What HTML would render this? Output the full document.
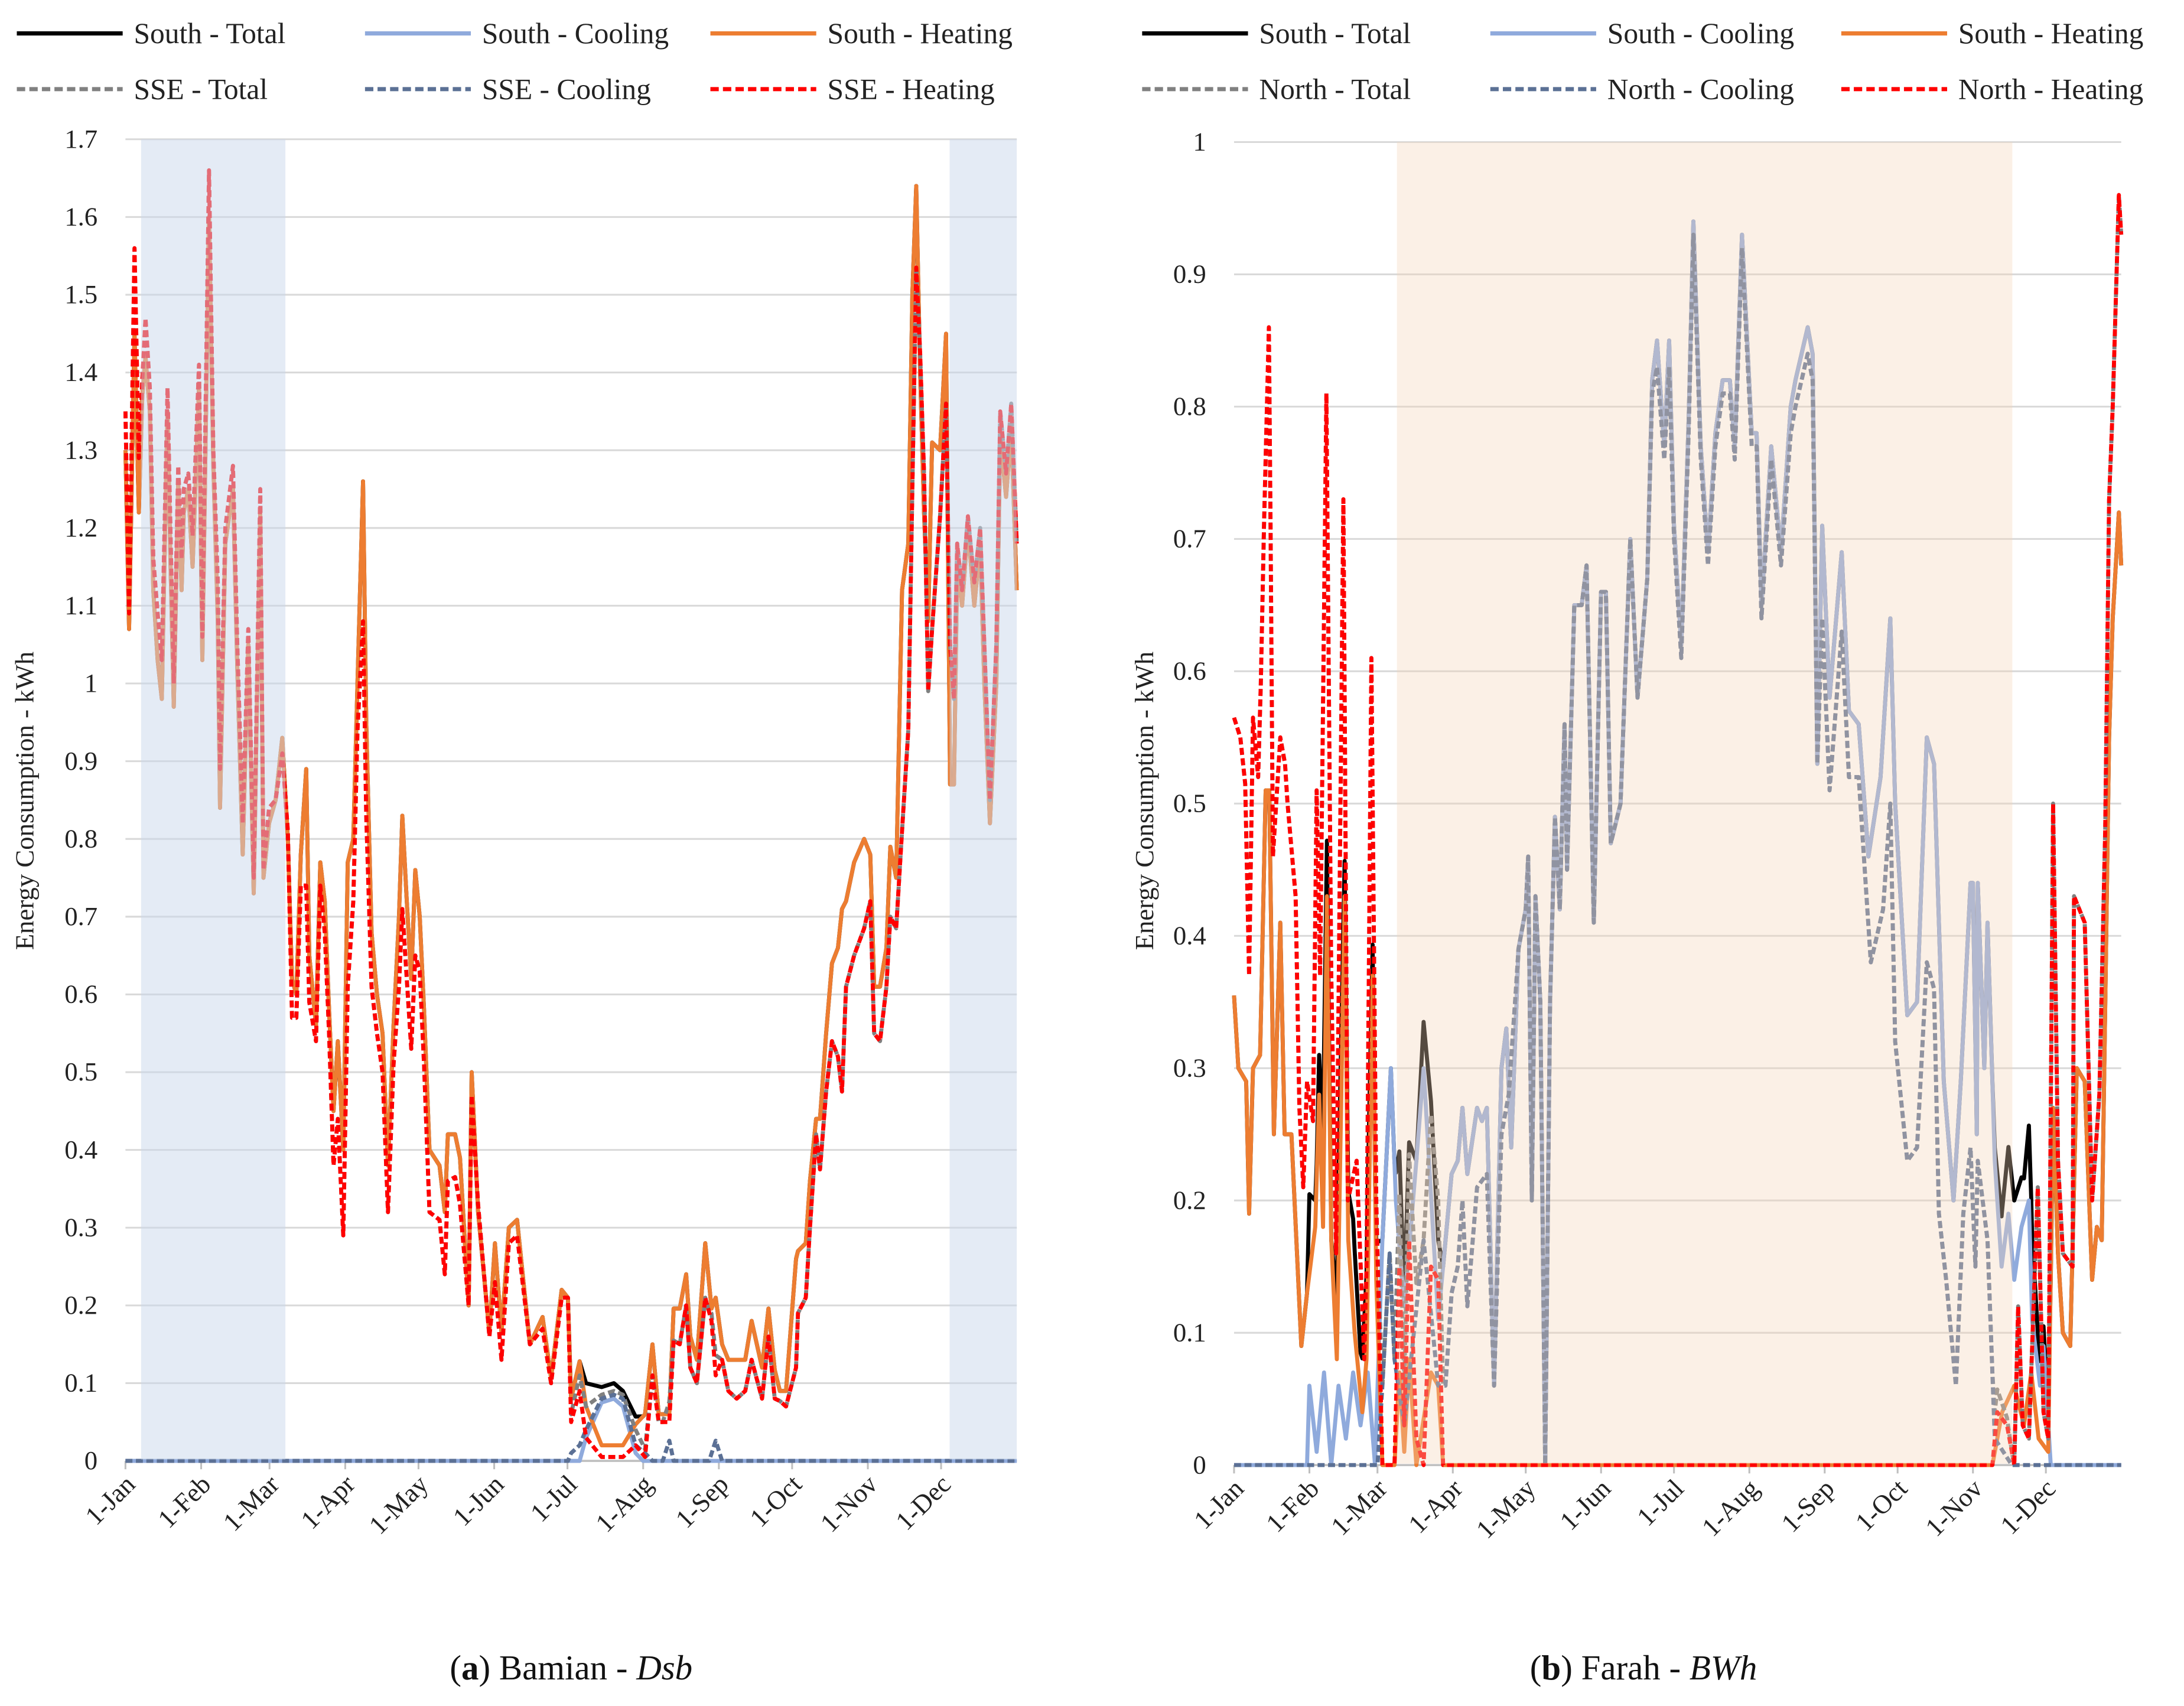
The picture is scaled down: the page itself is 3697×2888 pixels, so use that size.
<!DOCTYPE html>
<html><head><meta charset="utf-8"><style>
html,body{margin:0;padding:0;background:#fff;}
svg{display:block;font-family:"Liberation Serif",serif;}
</style></head><body>
<svg id="chart" width="3697" height="2888" viewBox="0 0 1568 1225" xmlns="http://www.w3.org/2000/svg"></svg>
<script>
// ---- Shared ----
const months = ["1-Jan","1-Feb","1-Mar","1-Apr","1-May","1-Jun","1-Jul","1-Aug","1-Sep","1-Oct","1-Nov","1-Dec"];
const monthDays = [0,31,59,90,120,151,181,212,243,273,304,334];

// ---- Chart (a) Bamian ----
const aTicks = [0,0.1,0.2,0.3,0.4,0.5,0.6,0.7,0.8,0.9,1,1.1,1.2,1.3,1.4,1.5,1.6,1.7];
const aDays = [0,1.5,3.7,5.5,6.9,8.2,10,11.4,13.2,14.9,17.2,18.5,19.8,21.6,23,23.9,25.7,27.5,30.1,31.5,34.2,36,37.8,38.7,40.9,44,45.8,48,50.3,52.5,55.2,56.5,58.8,61.5,64.2,66.5,68.2,70,71.8,74,75.3,78,79.8,81.6,83.4,85.2,87,89.2,91,93.3,95,97.3,98.6,100.8,103,105.3,107.5,109.8,112,113.4,115.2,117,118.7,120.5,122.3,124.5,128.6,130.8,132,
 135,137,140.5,141.8,144.4,149,151.3,154,157,160.4,165.6,170.8,174.3,178.6,181.2,182.5,186,188.6,195,200,203.7,208.9,212.8,215.8,218.4,222.7,224.5,227,229.6,231.3,234,237.4,240,241.7,244.3,246.9,250.3,253.8,256.4,260.7,263.3,265.9,
 268,270.5,274.6,275.4,278.6,280.3,282.8,284.4,286.9,289.3,291.8,293.4,295.1,298.4,302.5,305,306.6,309,311.6,313.2,315.6,318,320.6,322.2,323.8,325.4,327,328.7,330.3,333.6,336,337.7,339.3,340.6,342.6,345,347.6,350,351.7,354,356.6,358.2,360.6,362.7,365];
const aSseHeat = [1.35,1.09,1.56,1.29,1.39,1.47,1.38,1.16,1.09,1.03,1.38,1.19,1.0,1.28,1.16,1.25,1.27,1.19,1.41,1.06,1.66,1.30,1.13,0.89,1.20,1.28,1.05,0.82,1.07,0.75,1.25,0.76,0.84,0.85,0.91,0.81,0.57,0.57,0.74,0.74,0.59,0.54,0.74,0.68,0.55,0.38,0.44,0.29,0.61,0.72,0.94,1.08,0.83,0.61,0.55,0.50,0.32,0.51,0.61,0.71,0.62,0.53,0.65,0.63,0.51,0.32,0.31,0.24,0.36,
 0.365,0.33,0.20,0.47,0.33,0.16,0.23,0.13,0.28,0.29,0.15,0.17,0.10,0.21,0.21,0.05,0.09,0.03,0.005,0.005,0.005,0.02,0.005,0.11,0.05,0.05,0.155,0.15,0.20,0.12,0.10,0.21,0.18,0.11,0.13,0.09,0.08,0.09,0.13,0.08,0.16,0.08,
 0.077,0.07,0.12,0.19,0.21,0.30,0.42,0.375,0.475,0.54,0.52,0.475,0.61,0.65,0.685,0.72,0.55,0.54,0.61,0.70,0.685,0.81,0.94,1.25,1.535,1.425,1.27,0.99,1.07,1.215,1.36,1.05,0.98,1.18,1.12,1.215,1.13,1.20,1.05,0.85,1.05,1.35,1.27,1.36,1.18];
const aSouthHeat = [1.30,1.07,1.45,1.22,1.37,1.42,1.35,1.12,1.03,0.98,1.35,1.15,0.97,1.26,1.12,1.22,1.25,1.15,1.38,1.03,1.6,1.28,1.08,0.84,1.18,1.25,1.02,0.78,1.05,0.73,1.22,0.75,0.82,0.85,0.93,0.80,0.62,0.60,0.78,0.89,0.65,0.56,0.77,0.72,0.58,0.45,0.54,0.40,0.77,0.80,1.0,1.26,0.95,0.68,0.60,0.55,0.38,0.56,0.70,0.83,0.72,0.62,0.76,0.70,0.58,0.40,0.38,0.32,0.42,
 0.42,0.39,0.20,0.50,0.32,0.165,0.28,0.165,0.30,0.31,0.15,0.185,0.107,0.22,0.21,0.08,0.128,0.07,0.02,0.02,0.02,0.047,0.06,0.15,0.06,0.06,0.196,0.196,0.24,0.16,0.13,0.28,0.196,0.21,0.15,0.13,0.13,0.13,0.18,0.12,0.196,0.117,
 0.09,0.09,0.26,0.27,0.28,0.36,0.44,0.44,0.55,0.64,0.66,0.71,0.72,0.77,0.80,0.78,0.61,0.61,0.66,0.79,0.75,1.12,1.18,1.50,1.64,1.40,1.22,1.08,1.31,1.30,1.45,0.87,0.87,1.15,1.1,1.2,1.1,1.18,1.0,0.82,1.0,1.32,1.24,1.33,1.12];
const aSouthCool = [[0,0],[186,0],[188.6,0.03],[195,0.075],[200,0.08],[203.7,0.07],[208.9,0.01],[212,0],[365,0]];
const aSseCool = [[0,0],[181.2,0],[182.5,0.01],[186,0.02],[188.6,0.04],[195,0.08],[200,0.085],[203.7,0.08],[208.9,0.02],[212.8,0.01],[215.8,0],[220,0],[222.7,0.026],[224.5,0],[239,0],[241.7,0.026],[244.3,0],[365,0]];

// ---- Chart (b) Farah ----
const bTicks = [0,0.1,0.2,0.3,0.4,0.5,0.6,0.7,0.8,0.9,1];
const bSouthHeat = [[0,0.355],[1.8,0.30],[5,0.29],[6.2,0.19],[7.8,0.30],[10.7,0.31],[13,0.51],[14.5,0.51],[16.4,0.25],[19,0.41],[20.8,0.25],[23.6,0.25],[27.7,0.09],[30,0.13],[33.4,0.18],[35,0.28],[36.6,0.18],[38.2,0.43],[40,0.17],[42.3,0.08],[45.5,0.43],[47,0.17],[49.6,0.10],[52.8,0.04],[54.5,0.08],[57,0.37],[58.5,0.14],[61,0],[66,0],[68,0.07],[70,0.01],[72,0.08],[75,0],[81,0.07],[84,0.06],[86,0],[312,0],[316,0.04],[321,0.06],[325,0.03],[328,0.07],[331,0.02],[335,0.01],[337,0.27],[339,0.16],[341,0.10],[344,0.09],[346.7,0.30],[350,0.29],[353,0.14],[355,0.18],[357,0.17],[358.5,0.36],[360,0.55],[361.5,0.64],[364,0.72],[365,0.68]];
const bNorthHeat = [[0,0.565],[2.6,0.55],[4.6,0.515],[6.2,0.37],[7.8,0.565],[9.9,0.52],[11,0.59],[12.3,0.71],[14.3,0.86],[15,0.71],[16,0.46],[19,0.55],[21,0.53],[22,0.5],[25.3,0.43],[26.9,0.27],[28.5,0.21],[30,0.29],[32.5,0.26],[34,0.51],[35.4,0.37],[38,0.81],[40,0.37],[42,0.16],[45,0.73],[46.8,0.20],[50.4,0.23],[53.6,0.08],[54.5,0.15],[56.5,0.61],[58.5,0.20],[61,0],[66,0],[68,0.15],[70,0.03],[72,0.17],[75,0.02],[78,0],[81,0.15],[84,0.14],[86,0],[312,0],[314,0.04],[318,0.03],[321,0],[322.6,0.12],[324.5,0.03],[327,0.02],[330.7,0.21],[333,0.04],[335,0.02],[337,0.50],[339,0.23],[341,0.16],[345,0.15],[345.6,0.43],[350,0.41],[353,0.2],[356,0.28],[358.4,0.48],[360,0.73],[361.5,0.80],[364,0.96],[365,0.93]];
const bSouthCool = [[0,0],[30,0],[31,0.06],[34,0.01],[37,0.07],[40,0],[43,0.06],[46,0.02],[49,0.07],[52,0.03],[55,0.07],[58,0],[61,0.17],[64.5,0.30],[66.6,0.2],[70,0.12],[75,0.23],[78,0.30],[84,0.11],[89.5,0.22],[92,0.23],[94,0.27],[96,0.22],[100,0.27],[102,0.26],[104,0.27],[107,0.06],[110,0.30],[112,0.33],[114,0.24],[117,0.39],[120,0.42],[121,0.46],[122.5,0.20],[124,0.43],[126,0.35],[128,0.0],[130,0.35],[132,0.49],[134,0.42],[136,0.56],[137,0.45],[140,0.65],[143,0.65],[145,0.68],[148,0.41],[151,0.66],[153,0.66],[155,0.47],[159,0.50],[163,0.70],[166,0.58],[170,0.67],[172,0.82],[174,0.85],[177,0.77],[179,0.85],[181,0.71],[184,0.62],[187,0.79],[189,0.94],[192,0.77],[195,0.69],[198,0.78],[201,0.82],[204,0.82],[206,0.77],[209,0.93],[213,0.78],[215,0.78],[217,0.65],[221,0.77],[225,0.69],[229,0.80],[231,0.82],[236,0.86],[238,0.84],[240,0.53],[242,0.71],[245,0.58],[250,0.69],[253,0.57],[257,0.56],[261,0.46],[266,0.52],[270,0.64],[272,0.50],[277,0.34],[281,0.35],[285,0.55],[288,0.53],[292,0.29],[296,0.20],[299,0.29],[303,0.44],[304,0.44],[305.6,0.25],[306,0.44],[308.7,0.30],[310,0.41],[313,0.23],[315.8,0.15],[318.6,0.19],[321,0.14],[324,0.18],[327,0.20],[328.3,0.11],[331.6,0.06],[333,0.09],[336,0],[365,0]];
const bNorthCool = [[0,0],[59,0],[61,0.06],[64,0.16],[66,0.08],[70,0.03],[74,0.1],[78,0.17],[84,0.06],[87,0.06],[89.5,0.13],[92,0.15],[94,0.2],[96,0.12],[100,0.21],[104,0.22],[107,0.06],[110,0.25],[113,0.28],[116,0.36],[117,0.39],[120,0.42],[121,0.46],[122.5,0.20],[124,0.43],[126,0.35],[128,0.0],[130,0.35],[132,0.49],[134,0.42],[136,0.56],[137,0.45],[140,0.65],[143,0.65],[145,0.68],[148,0.41],[151,0.66],[153,0.66],[155,0.47],[159,0.50],[163,0.70],[166,0.58],[170,0.67],[172,0.81],[174,0.83],[177,0.76],[179,0.83],[181,0.70],[184,0.61],[187,0.78],[189,0.93],[192,0.76],[195,0.68],[198,0.77],[201,0.81],[204,0.81],[206,0.76],[209,0.92],[213,0.77],[215,0.77],[217,0.64],[221,0.76],[225,0.68],[229,0.78],[231,0.80],[236,0.84],[238,0.82],[240,0.53],[242,0.64],[245,0.51],[250,0.63],[253,0.52],[257,0.52],[262,0.38],[267,0.42],[270,0.50],[272,0.32],[277,0.23],[281,0.24],[285,0.38],[288,0.36],[290,0.19],[293,0.14],[297,0.06],[300,0.19],[303,0.24],[305,0.15],[306,0.23],[310,0.17],[313,0.02],[320,0],[365,0]];

const NS = "http://www.w3.org/2000/svg";
const svg = document.getElementById("chart");
function mk(tag, attrs, parent){ const e=document.createElementNS(NS,tag); for(const k in attrs) e.setAttribute(k,attrs[k]); (parent||svg).appendChild(e); return e; }
const zip = (days, vals) => days.map((d,i)=>[d, vals[i]]);
function interp(s, d){
  if (d<=s[0][0]) return s[0][1];
  for (let i=1;i<s.length;i++){ if (d<=s[i][0]){ const [d0,v0]=s[i-1],[d1,v1]=s[i]; return d1===d0?v1:v0+(v1-v0)*(d-d0)/(d1-d0);} }
  return s[s.length-1][1];
}
function addSeries(a,b){
  const days = Array.from(new Set(a.map(p=>p[0]).concat(b.map(p=>p[0])))).sort((x,y)=>x-y);
  return days.map(d=>[d, interp(a,d)+interp(b,d)]);
}

function drawChart(cfg){
  const g = mk("g",{});
  
  
  const xs = d => cfg.x0 + (cfg.x1-cfg.x0)*d/365;
  const ys = v => cfg.y0 - (cfg.y0-cfg.yTop)*v/cfg.yMax;
  cfg.ticks.forEach(t=>{
    const l = mk("line",{x1:cfg.x0,x2:cfg.x1,y1:ys(t),y2:ys(t),stroke:"#d9d9d9","stroke-width":1.3},g);
    
    
    const tx = mk("text",{x:cfg.x0-20,y:ys(t)+6,"text-anchor":"end","font-size":19,fill:"#222"},g);
    tx.textContent = String(t);
    
    
  });
  const ax = mk("line",{x1:cfg.x0,x2:cfg.x1,y1:cfg.y0,y2:cfg.y0,stroke:"#bfbfbf","stroke-width":1.5},g);
  
  
  months.forEach((m,i)=>{
    const x = xs(monthDays[i]);
    const tk = mk("line",{x1:x,x2:x,y1:cfg.y0,y2:cfg.y0+6,stroke:"#bfbfbf","stroke-width":1.3},g);
    
    
    const tx = mk("text",{x:x+8,y:cfg.y0+18,"text-anchor":"end","font-size":19,fill:"#222",transform:`rotate(-45 ${x+8} ${cfg.y0+18})`},g);
    tx.textContent = m;
    
    
  });
  const yt = mk("text",{x:cfg.ytX,y:575,"text-anchor":"middle","font-size":19,fill:"#222",transform:`rotate(-90 ${cfg.ytX} 575)`},g);
  yt.textContent = "Energy Consumption - kWh";
  
  
  cfg.series.forEach(s=>{
    const pts = s.values.map(p=>`${xs(p[0]).toFixed(1)},${ys(p[1]).toFixed(1)}`).join(" ");
    const p = mk("polyline",{points:pts,fill:"none",stroke:s.color,"stroke-width":2.9,"stroke-dasharray":s.dash?"5,2.5":"none","stroke-linejoin":"round"},g);
    
    
  });
  cfg.shade.forEach(s=>{
    const r = mk("rect",{x:xs(s[0]),y:cfg.yTop,width:xs(s[1])-xs(s[0]),height:cfg.y0-cfg.yTop-1,fill:cfg.shadeColor,opacity:cfg.shadeOp},g);
    
    
  });
  cfg.series.forEach((s,i)=>{
    const col = i%3, row = Math.floor(i/3);
    const lx = cfg.legX[col], ly = row?64:24;
    const l = mk("line",{x1:lx,x2:lx+76,y1:ly,y2:ly,stroke:s.color,"stroke-width":3,"stroke-dasharray":s.dash?"6,3":"none"},g);
    
    
    const t = mk("text",{x:lx+84,y:ly+7,"font-size":21,fill:"#222"},g);
    t.textContent = s.label;
    
    
  });
  const c = mk("text",{x:cfg.capX,y:1206,"text-anchor":"middle","font-size":25,fill:"#111"},g);
  c.innerHTML = cfg.caption;
  
  
}

const aSH = zip(aDays, aSouthHeat), aEH = zip(aDays, aSseHeat);
drawChart({name:"chart-bamian",x0:90,x1:730,y0:1049,yTop:100,yMax:1.7,ticks:aTicks,ytX:24,
  shade:[[6.4,65.5],[337.5,365]],shadeColor:"#c9d7eb",shadeOp:0.5,legX:[12,262,510],capX:410,
  caption:'(<tspan font-weight="bold">a</tspan>) Bamian - <tspan font-style="italic">Dsb</tspan>',
  series:[
    {id:"south-total-line",label:"South - Total",color:"#000",values:addSeries(aSH,aSouthCool)},
    {id:"south-cooling-line",label:"South - Cooling",color:"#8faadc",values:aSouthCool},
    {id:"south-heating-line",label:"South - Heating",color:"#ed7d31",values:aSH},
    {id:"sse-total-line",label:"SSE - Total",color:"#808080",dash:true,values:addSeries(aEH,aSseCool)},
    {id:"sse-cooling-line",label:"SSE - Cooling",color:"#5b7095",dash:true,values:aSseCool},
    {id:"sse-heating-line",label:"SSE - Heating",color:"#ff0000",dash:true,values:aEH}
  ]});

drawChart({name:"chart-farah",x0:886,x1:1523,y0:1052,yTop:102,yMax:1,ticks:bTicks,ytX:828,
  shade:[[67,320.2]],shadeColor:"#f4d4b8",shadeOp:0.35,legX:[820,1070,1322],capX:1180,
  caption:'(<tspan font-weight="bold">b</tspan>) Farah - <tspan font-style="italic">BWh</tspan>',
  series:[
    {id:"south-total-line",label:"South - Total",color:"#000",values:addSeries(bSouthHeat,bSouthCool)},
    {id:"south-cooling-line",label:"South - Cooling",color:"#8faadc",values:bSouthCool},
    {id:"south-heating-line",label:"South - Heating",color:"#ed7d31",values:bSouthHeat},
    {id:"north-total-line",label:"North - Total",color:"#808080",dash:true,values:addSeries(bNorthHeat,bNorthCool)},
    {id:"north-cooling-line",label:"North - Cooling",color:"#5b7095",dash:true,values:bNorthCool},
    {id:"north-heating-line",label:"North - Heating",color:"#ff0000",dash:true,values:bNorthHeat}
  ]});
</script>
</body></html>
